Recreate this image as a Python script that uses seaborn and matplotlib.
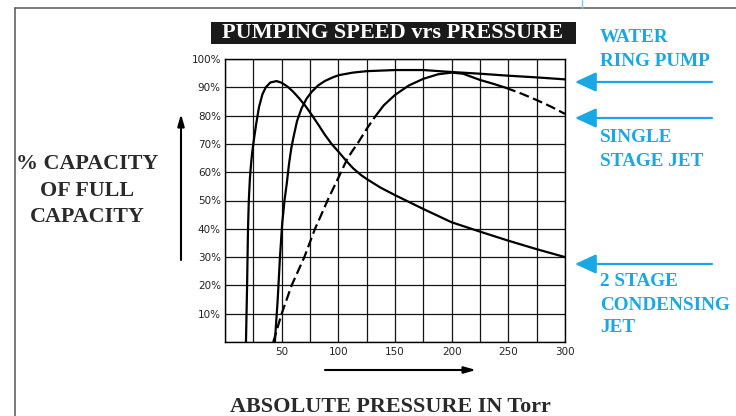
import numpy as np
import pandas as pd
import matplotlib
matplotlib.use("Agg")
import matplotlib.pyplot as plt
from matplotlib.lines import Line2D
from matplotlib.patches import Rectangle
import seaborn as sns

# Data (pressure in Torr, capacity in %)
two_stage_x = [18.5, 19.5, 20.3, 21, 22, 23, 24, 25.5, 27.5, 30, 33, 36, 40, 45.5, 50, 55,
               60, 65, 71, 77, 83, 88, 94, 100, 107, 113, 120, 125, 137, 150, 175, 200,
               225, 250, 275, 300]
two_stage_y = [0, 20, 40, 50, 58, 63, 67, 71.5, 77, 83, 87.5, 90, 91.7, 92.2, 91.6, 90.3,
               88.5, 86.3, 83.4, 80, 76.4, 73.3, 70, 67.3, 64, 61.4, 59, 57.6, 54.6, 51.9,
               47, 42.3, 39, 35.8, 32.8, 30]

water_ring_x = [44, 46.5, 48.5, 50.5, 52.5, 54.5, 56.5, 58.5, 60.5, 63.5, 67.6, 72, 76.5,
                82, 88, 95, 100.6, 113, 125, 150, 175, 200, 225, 250, 275, 300]
water_ring_y = [0, 15, 30, 42, 50, 56, 63, 68.5, 72.5, 78, 82.6, 86, 88.4, 90.6, 92.2,
                93.5, 94.3, 95.2, 95.7, 96.1, 96.1, 95.4, 94.8, 94.1, 93.5, 92.8]

# single stage jet: dashed at low pressure, solid in the middle, dashed at the end
single_low_x = [42.6, 50, 58.8, 70, 79.4, 85, 91, 100, 107.4, 112, 117.6, 125, 132.4]
single_low_y = [0, 10, 20, 30, 40, 45, 50.5, 58, 64.3, 67.3, 70.5, 75.3, 79.6]
single_mid_x = [132.4, 140, 150, 162, 175, 188, 200, 210, 225, 237, 248]
single_mid_y = [79.6, 83.6, 87.3, 90.6, 93, 94.6, 95.2, 94.8, 92.6, 91.2, 89.8]
single_high_x = [248, 262, 275, 288, 300]
single_high_y = [89.8, 87.7, 85.5, 83.1, 80.6]

x_ticks = list(range(0, 301, 25))
x_labels = ["" if (t == 0 or t % 50) else str(t) for t in x_ticks]
y_ticks = list(range(0, 101, 10))
y_labels = ["" if t == 0 else f"{t}%" for t in y_ticks]

title = "PUMPING SPEED vrs PRESSURE"
y_title = ["% CAPACITY", "OF FULL", "CAPACITY"]
x_title = "ABSOLUTE PRESSURE IN Torr"
blue_labels = [["WATER", "RING PUMP"], ["SINGLE", "STAGE JET"], ["2 STAGE", "CONDENSING", "JET"]]

# build one long table, one unit per drawn segment
parts = [
    ("2 stage", two_stage_x, two_stage_y, "solid"),
    ("water ring", water_ring_x, water_ring_y, "solid"),
    ("single low", single_low_x, single_low_y, "dashed"),
    ("single mid", single_mid_x, single_mid_y, "solid"),
    ("single high", single_high_x, single_high_y, "dashed"),
]
df = pd.concat(
    [pd.DataFrame({"pressure": xs, "capacity": ys, "segment": name, "kind": kind})
     for name, xs, ys, kind in parts],
    ignore_index=True)

sns.set_style("white")
serif = ["Liberation Serif", "DejaVu Serif"]
W, H = 736, 416


def fx(px):
    return px / W


def fy(py):
    return 1 - py / H


fig = plt.figure(figsize=(7.36, 4.16), dpi=100)
ax = fig.add_axes([fx(225), fy(342), 340 / W, 283 / H])

sns.lineplot(data=df, x="pressure", y="capacity", units="segment", style="kind",
             dashes={"solid": "", "dashed": (4.5, 2)}, estimator=None, sort=False,
             color="black", linewidth=1.6, legend=False, ax=ax)

ax.set_xlim(0, 300)
ax.set_ylim(0, 100)
ax.set_xticks(x_ticks)
ax.set_xticklabels(x_labels)
ax.set_yticks(y_ticks)
ax.set_yticklabels(y_labels)
ax.tick_params(length=0, labelsize=7.5, colors="#222222")
ax.tick_params(axis="x", pad=3.5)
ax.tick_params(axis="y", pad=3)
ax.grid(True, color="#151515", linewidth=0.9)
for s in ax.spines.values():
    s.set_color("black")
    s.set_linewidth(1.0)
ax.set_xlabel("")
ax.set_ylabel("")

# page frame
fig.add_artist(Line2D([fx(15), fx(15)], [fy(8), 0], transform=fig.transFigure,
                      color="#555555", linewidth=1.1))
fig.add_artist(Line2D([fx(15), 1], [fy(8), fy(8)], transform=fig.transFigure,
                      color="#555555", linewidth=1.1))
fig.add_artist(Line2D([fx(582), fx(582)], [1, fy(8)], transform=fig.transFigure,
                      color="#7cc8ee", linewidth=1.0))

# title box
fig.add_artist(Rectangle((fx(211), fy(44)), fx(576) - fx(211), fy(22) - fy(44),
                         transform=fig.transFigure, facecolor="#1a1a1a", edgecolor="none"))
fig.text(fx(393), fy(33.5), title, color="white", fontsize=16, fontweight="bold",
         family=serif, ha="center", va="center")

# y title and arrow
for line, py in zip(y_title, [164, 191, 217]):
    fig.text(fx(87), fy(py), line, color="#2a2a2a", fontsize=15.8, fontweight="bold",
             family=serif, ha="center", va="center")
ax.annotate("", xy=(fx(181), fy(114)), xytext=(fx(181), fy(260)),
            xycoords="figure fraction", textcoords="figure fraction",
            arrowprops=dict(arrowstyle="-|>,head_length=0.7,head_width=0.2",
                            color="black", lw=1.5, shrinkA=0, shrinkB=0))

# x title and arrow
fig.text(fx(390), fy(407), x_title, color="#2a2a2a", fontsize=15.9, fontweight="bold",
         family=serif, ha="center", va="center")
ax.annotate("", xy=(fx(476), fy(370)), xytext=(fx(325), fy(370)),
            xycoords="figure fraction", textcoords="figure fraction",
            arrowprops=dict(arrowstyle="-|>,head_length=0.7,head_width=0.2",
                            color="black", lw=1.5, shrinkA=0, shrinkB=0))

# blue labels with arrows pointing at curve ends
blue = "#1aa8e4"
label_rows = [[38, 61], [138, 162], [282, 305, 328]]
arrow_rows = [82, 118, 264]
for lines, rows in zip(blue_labels, label_rows):
    for line, py in zip(lines, rows):
        fig.text(fx(600), fy(py), line, color=blue, fontsize=13.8, fontweight="bold",
                 family=serif, ha="left", va="center")
for py in arrow_rows:
    ax.annotate("", xy=(fx(575), fy(py)), xytext=(fx(712), fy(py)),
                xycoords="figure fraction", textcoords="figure fraction",
                arrowprops=dict(arrowstyle="-|>,head_length=1.3,head_width=0.6",
                                color=blue, lw=1.6, shrinkA=0, shrinkB=0))

fig.savefig("out.png", dpi=100)
